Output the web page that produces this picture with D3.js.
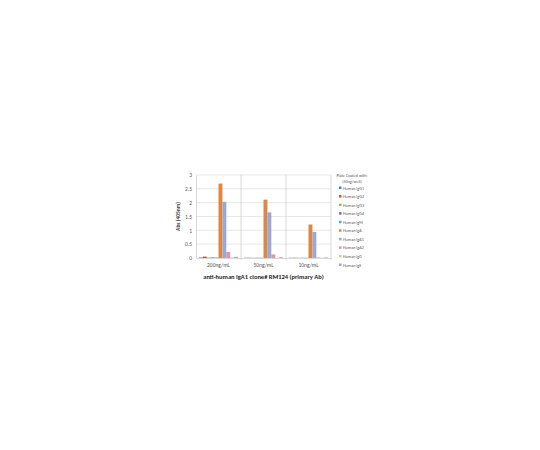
<!DOCTYPE html>
<html><head><meta charset="utf-8">
<script src="https://cdn.jsdelivr.net/npm/d3@7"></script>
<style>body{margin:0;background:#fff}svg{display:block}text{font-family:Calibri,Carlito,"Liberation Sans",Arial,sans-serif}</style>
</head><body><svg id="c" width="540" height="450"></svg>
<script>
const categories = ["200ng/mL", "50ng/mL", "10ng/mL"];
const series = ["Human IgG1","Human IgG2","Human IgG3","Human IgG4","Human IgM","Human IgA","Human IgA1","Human IgA2","Human IgD","Human IgE"];
const colors = ["#4F81BD","#C0504D","#9BBB59","#8064A2","#4BACC6","#DE8742","#98A9D5","#D69AA8","#C3D69B","#B3A2C7"];
const valIgG1 = [0.02, 0.01, 0.01];
const valIgG2 = [0.05, 0.01, 0.01];
const valIgG3 = [0.02, 0.01, 0.01];
const valIgG4 = [0.02, 0.01, 0.01];
const valIgM  = [0.02, 0.01, 0.01];
const valIgA  = [2.69, 2.11, 1.21];
const valIgA1 = [2.03, 1.65, 0.94];
const valIgA2 = [0.22, 0.13, 0.02];
const valIgD  = [0.02, 0.01, 0.01];
const valIgE  = [0.04, 0.03, 0.02];
const yTicks = [0, 0.5, 1, 1.5, 2, 2.5, 3];
const legendTitle = ["Plate Coated with:", "(50ng/well)"];
const yTitle = "Abs (405nm)";
const xTitle = "anti-human IgA1 clone# RM124 (primary Ab)";

const values = [valIgG1,valIgG2,valIgG3,valIgG4,valIgM,valIgA,valIgA1,valIgA2,valIgD,valIgE];
const svg = d3.select("#c");
const L = 196, R = 331, T = 175, B = 258;
const x0 = d3.scaleBand().domain(categories).range([L, R]).paddingInner(0).paddingOuter(0);
const bw = x0.bandwidth() / 11.5;
const x1 = d3.scaleBand().domain(series).range([bw*0.75, x0.bandwidth() - bw*0.75]).padding(0);
const y = d3.scaleLinear().domain([0, 3]).range([B, T]);

// horizontal gridlines
svg.append("g").selectAll("line").data(yTicks.slice(1)).join("line")
  .attr("x1", L).attr("x2", R).attr("y1", d => y(d)).attr("y2", d => y(d))
  .attr("stroke", "#d9d9d9").attr("stroke-width", 0.6);

// category dividers
svg.append("g").selectAll("line").data(categories.slice(1).concat([null])).join("line")
  .attr("x1", (d,i) => i < 2 ? x0(d) : R).attr("x2", (d,i) => i < 2 ? x0(d) : R)
  .attr("y1", T).attr("y2", B + 2)
  .attr("stroke", "#bfbfbf").attr("stroke-width", 0.6);

// bars
categories.forEach((c, ci) => {
  svg.append("g").selectAll("rect").data(series).join("rect")
    .attr("x", s => x0(c) + x1(s))
    .attr("width", x1.bandwidth())
    .attr("y", (s, si) => y(values[si][ci]))
    .attr("height", (s, si) => B - y(values[si][ci]))
    .attr("fill", (s, si) => colors[si]);
});

// axes
const yAxis = d3.axisLeft(y).tickValues(yTicks).tickSize(0).tickPadding(4).tickFormat(d3.format("~g"));
const gy = svg.append("g").attr("transform", `translate(${L},0)`).call(yAxis);
gy.select(".domain").attr("stroke", "#bfbfbf").attr("stroke-width", 0.6);
gy.selectAll("text").attr("font-size", 5.5).attr("fill", "#595959");

const xAxis = d3.axisBottom(x0).tickSize(0).tickPadding(5);
const gx = svg.append("g").attr("transform", `translate(0,${B})`).call(xAxis);
gx.select(".domain").attr("stroke", "#bfbfbf").attr("stroke-width", 0.6);
gx.selectAll("text").attr("font-size", 5.5).attr("fill", "#595959");

svg.append("text").attr("transform", `translate(180,${(T+B)/2}) rotate(-90)`)
  .attr("text-anchor", "middle").attr("font-size", 5.5).attr("font-weight", "bold")
  .attr("fill", "#404040").text(yTitle);
svg.append("text").attr("x", (L+R)/2).attr("y", 279).attr("text-anchor", "middle")
  .attr("font-size", 6.5).attr("font-weight", "bold").attr("fill", "#262626").text(xTitle);

// legend
const lg = svg.append("g");
lg.selectAll("text.t").data(legendTitle).join("text").attr("class","t")
  .attr("x", 352).attr("y", (d,i) => 177 + i*6).attr("text-anchor", "middle")
  .attr("font-size", 4.2).attr("fill", "#595959").text(d => d);
const ly = d3.scalePoint().domain(series).range([188, 265]);
lg.selectAll("rect").data(series).join("rect")
  .attr("x", 339).attr("y", d => ly(d) - 1.5).attr("width", 2.5).attr("height", 2.5)
  .attr("fill", (d,i) => colors[i]);
lg.selectAll("text.l").data(series).join("text").attr("class","l")
  .attr("x", 343).attr("y", d => ly(d) + 1.5)
  .attr("font-size", 4.2).attr("fill", "#595959").text(d => d);
</script></body></html>
